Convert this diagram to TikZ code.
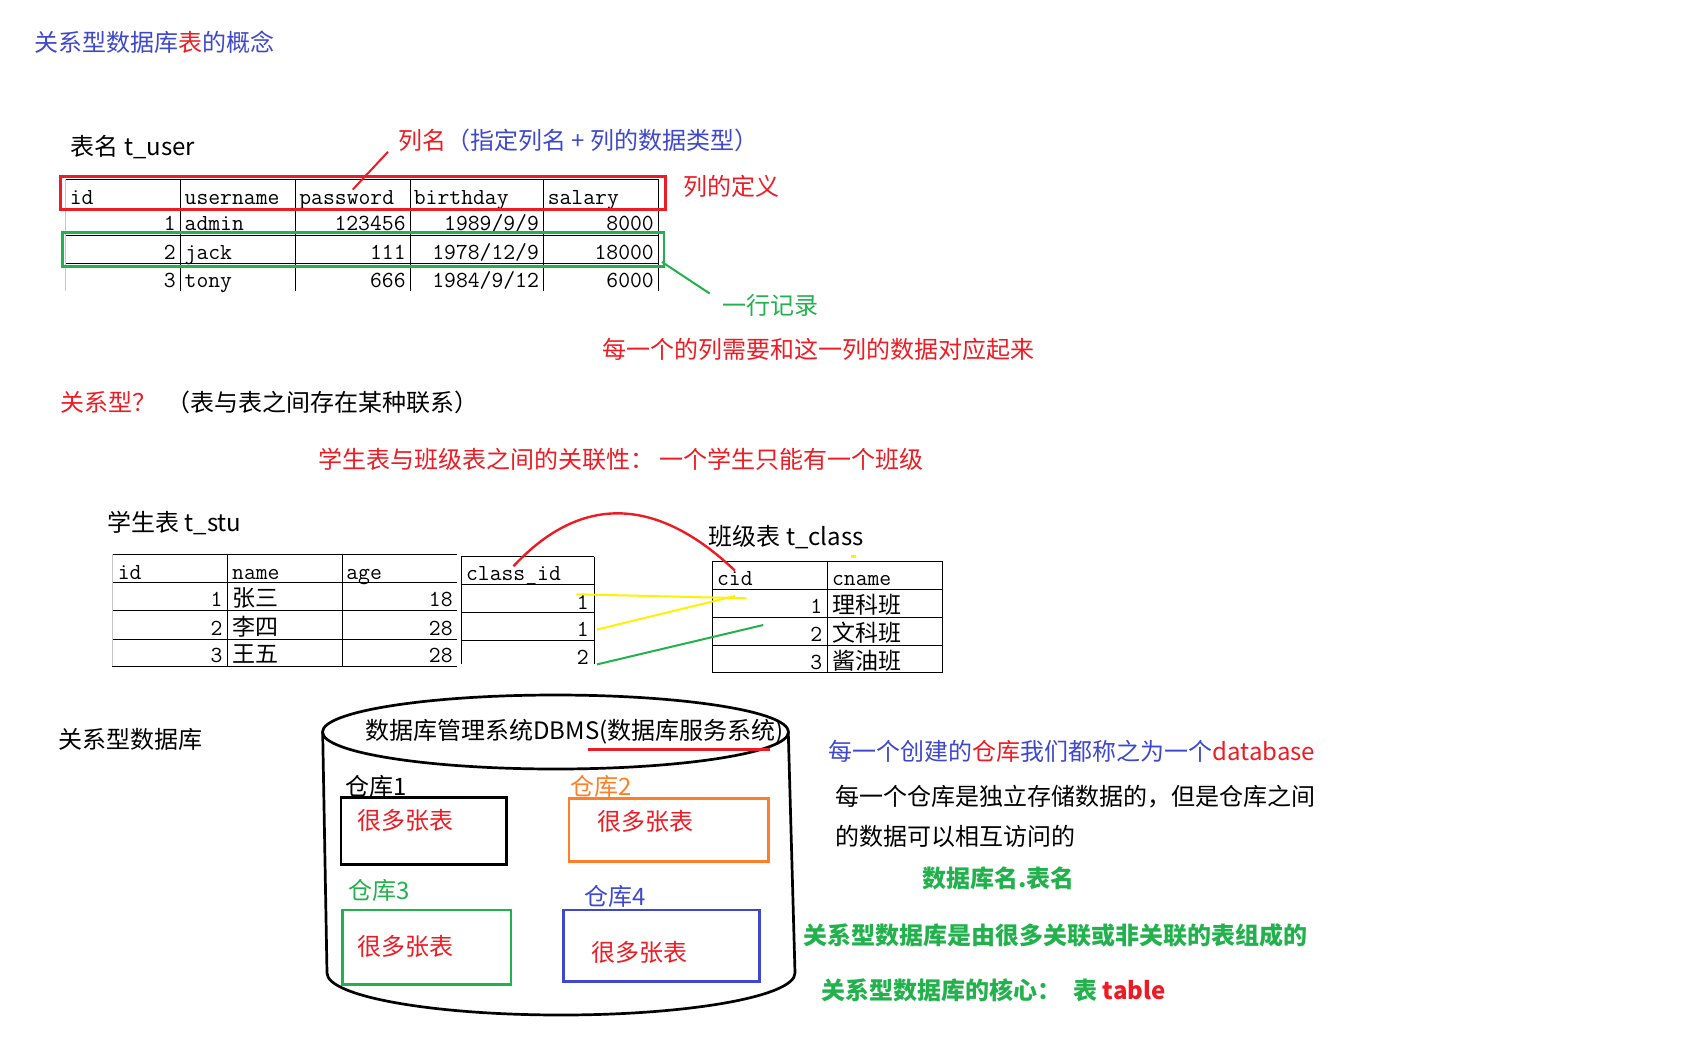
\documentclass[tikz,border=0pt]{standalone}
\usepackage{fontspec}
\setmainfont{Noto Sans CJK SC}
\definecolor{pred}{HTML}{ED1C24}
\definecolor{pgreen}{HTML}{22B14C}
\definecolor{porange}{HTML}{FF7F27}
\definecolor{pblue}{HTML}{3F48CC}
\definecolor{pyellow}{HTML}{FFF200}

\begin{document}
\begin{tikzpicture}[x=0.5pt, y=-0.5pt,
    txt/.style={anchor=west, inner sep=0pt, font=\fontsize{12}{14}\selectfont},
    strong/.style={txt, pgreen, font=\fontsize{12}{14}\selectfont\bfseries},
    cell/.style={inner sep=0pt, font=\ttfamily\fontsize{11.5}{12}\selectfont},
    hd/.style={cell, anchor=base west},
    num/.style={cell, anchor=base east},
    str/.style={cell, anchor=base west},
    grid/.style={line width=0.5pt},
    frame/.style={line width=1.35pt}]
    \useasboundingbox (0,0) rectangle (1698,1040);

    % 标题
    \node[txt, pblue] (title) at (33.6,42.7) {关系型数据库\textcolor{pred}{表}的概念};

    % 表 t_user
    \node[txt] (tuser) at (70.5,146.7) {表名 t\_user};
    \draw[grid] (65,179) -- (658.5,179);
    \draw[grid] (65,235.5) -- (658.5,235.5) (65,263.3) -- (658.5,263.3);
    \draw[grid, gray!45] (65,179) -- (65,290.7);
    \foreach \x in {180.5,295.4,410.3,543.6,658.5}
        \draw[grid] (\x,179) -- (\x,290.7);
    \foreach \x/\t/\n in {69.4/id/h1, 184.3/username/h2, 299/password/h3, 413.5/birthday/h4, 547.4/salary/h5}
        \node[hd] (\n) at (\x,204) {\t};
    \foreach \k/\y/\rid/\rnm/\rpw/\rbd/\rsl in {1/230/1/admin/123456/{1989/9/9}/8000,
            2/259.3/2/jack/111/{1978/12/9}/18000, 3/287.3/3/tony/666/{1984/9/12}/6000} {
        \node[num] (u\k-id) at (176.2,\y) {\rid};
        \node[str] (u\k-nm) at (184.3,\y) {\rnm};
        \node[num] (u\k-pw) at (406,\y) {\rpw};
        \node[num] (u\k-bd) at (539.3,\y) {\rbd};
        \node[num] (u\k-sl) at (654.2,\y) {\rsl};
    }

    % 列的定义 / 一行记录
    \draw[frame, pred] (60.7,176.7) rectangle (665.6,209.3);
    \draw[frame, pgreen] (62.3,232.3) rectangle (664,266.7);
    \node[txt, pblue] (colname) at (398,140) {\textcolor{pred}{列名}（指定列名 + 列的数据类型）};
    \draw[pred, line width=1pt] ([xshift=-5pt]colname.south west) -- ([xshift=3pt]h3.north);
    \node[txt, pred] (coldef) at (683,186) {列的定义};
    \coordinate (rowend) at (662,262);
    \node[txt, pgreen] (record) at (721.7,305) {一行记录};
    \draw[pgreen, line width=1pt] (rowend) -- ([xshift=-6pt]record.north west);
    \node[txt, pred] (match) at (601.7,349.3) {每一个的列需要和这一列的数据对应起来};

    % 关系型
    \node[txt, pred] (rel) at (60.6,402.7) {关系型？};
    \node[txt] (relnote) at (165.6,402.7) {（表与表之间存在某种联系）};
    \node[txt, pred] (assoc) at (317.6,459.3) {学生表与班级表之间的关联性： 一个学生只能有一个班级};

    % 学生表 t_stu
    \node[txt] (tstu) at (106.8,522.7) {学生表 t\_stu};
    \foreach \y in {554,582.7,610.7,639,666}
        \draw[grid] (112,\y) -- (456.8,\y);
    \draw[grid, gray!45] (112,554) -- (112,666);
    \foreach \x in {227.5,342.5}
        \draw[grid] (\x,554) -- (\x,666);
    \node[hd] (s-id) at (117.5,579.3) {id};
    \node[hd] (s-nm) at (231.8,579.3) {name};
    \node[hd] (s-age) at (346,579.3) {age};
    \foreach \k/\y/\rnm/\rag in {1/606.7/张三/18, 2/635/李四/28, 3/662.7/王五/28} {
        \node[num] (s\k-id) at (222.9,\y) {\k};
        \node[str] (s\k-nm) at (231.8,\y) {\normalfont\rnm};
        \node[num] (s\k-age) at (453,\y) {\rag};
    }
    % class_id 列
    \foreach \y in {556.7,584.3,612.3,640}
        \draw[grid] (461.4,\y) -- (594.3,\y);
    \foreach \x in {461.4,594.3}
        \draw[grid] (\x,556.7) -- (\x,664);
    \node[hd] (cls-id) at (465.7,580.7) {class\_id};
    \foreach \k/\y/\v in {1/609/1, 2/636.7/1, 3/664/2}
        \node[num] (v\k) at (589,\y) {\v};

    % 班级表 t_class
    \node[txt] (tcls) at (708.3,536.7) {班级表 t\_class};
    \foreach \y in {561,589.3,617.3,645.3,672.7}
        \draw[grid] (712.3,\y) -- (942.3,\y);
    \foreach \x in {712.3,827.7,942.3}
        \draw[grid] (\x,561) -- (\x,672.7);
    \node[hd] (c-id) at (716.7,585) {cid};
    \node[hd] (c-nm) at (831.7,585) {cname};
    \foreach \k/\y/\rnm in {1/613.3/理科班, 2/641.7/文科班, 3/669.3/酱油班} {
        \node[num] (c\k-id) at (822.7,\y) {\k};
        \node[str] (c\k-nm) at (831.7,\y) {\normalfont\rnm};
    }
    \fill[pyellow] (851,555) rectangle (856,558);

    % 关联线
    \draw[pred, line width=1.2pt] (cls-id.north) .. controls (575,500) and (650,490) .. (c-id.north);
    \coordinate (y1) at (746.7,598.3);
    \coordinate (y2) at (735,596);
    \coordinate (g1) at (763.3,625);
    \draw[pyellow, line width=1pt] (v1.north west) -- (y1);
    \draw[pyellow, line width=1pt] ([xshift=4pt]v2.east) -- (y2);
    \draw[pgreen, line width=1pt] ([xshift=4pt]v3.south east) -- (g1);

    % 关系型数据库
    \node[txt] (rdb) at (58.3,739.3) {关系型数据库};
    \draw[frame] (555.5,732) ellipse [x radius=233, y radius=37];
    \draw[frame] (322.7,733) -- (327,973) arc[start angle=180, end angle=0, x radius=234, y radius=42] -- (788.3,733);
    \node[txt] (dbms) at (365,731.7) {数据库管理系统DBMS(数据库服务系统)};
    \draw[pred, line width=1.2pt] (588.3,749.3) -- (770,749.3);

    % 仓库
    \draw[frame] (341,797.3) rectangle (506.7,864.3);
    \draw[frame, porange] (569,798.3) rectangle (768.3,861.7);
    \draw[frame, pgreen] (342.3,910) rectangle (511,984.3);
    \draw[frame, pblue] (563.3,910) rectangle (759.3,981.7);
    \node[txt] (wh1) at (345,786) {仓库1};
    \node[txt, porange] (wh2) at (570,786.7) {仓库2};
    \node[txt, pgreen] (wh3) at (348.3,890) {仓库3};
    \node[txt, pblue] (wh4) at (584,896) {仓库4};
    \foreach \n/\x/\y in {t1/356.7/820, t2/596.7/821.7, t3/356.7/946.7, t4/590.7/952.7}
        \node[txt, pred] (\n) at (\x,\y) {很多张表};

    % 说明
    \node[txt, pblue] (db1) at (828.2,751.7) {每一个创建的\textcolor{pred}{仓库}我们都称之为一个\textcolor{pred}{database}};
    \node[txt] (db2) at (835.4,796.7) {每一个仓库是独立存储数据的，但是仓库之间};
    \node[txt] (db3) at (835.4,836.7) {的数据可以相互访问的};
    \node[strong] (db4) at (922,878.3) {数据库名.表名};
    \node[strong] (db5) at (803.2,935) {关系型数据库是由很多关联或非关联的表组成的};
    \node[strong] (db6) at (821,990) {关系型数据库的核心：\hspace{6pt}表 \textcolor{pred}{table}};
\end{tikzpicture}
\end{document}
